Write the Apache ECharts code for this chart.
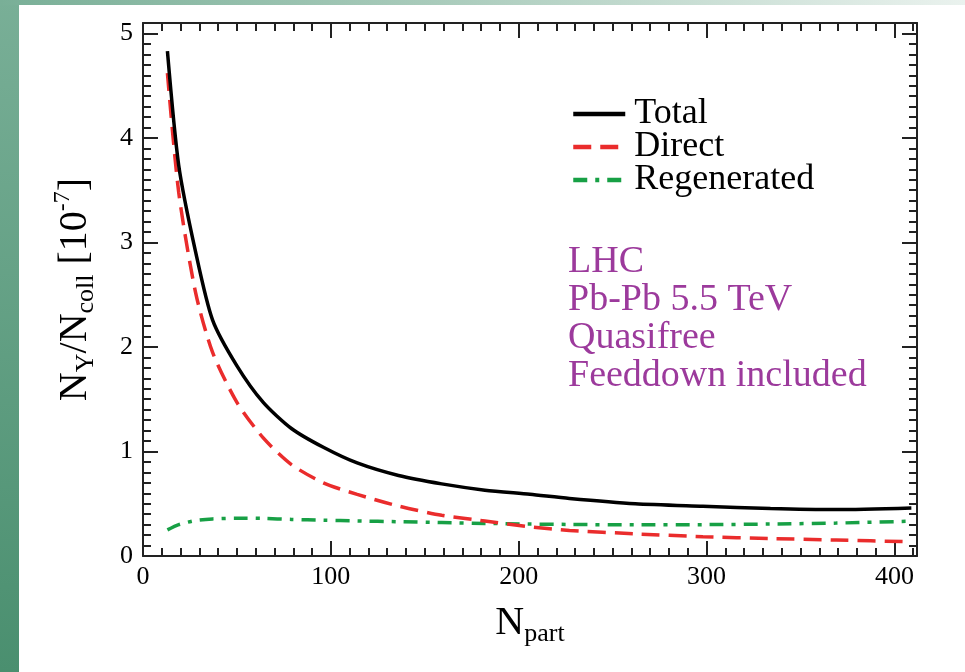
<!DOCTYPE html>
<html>
<head>
<meta charset="utf-8">
<script src="https://cdn.jsdelivr.net/npm/echarts@6/dist/echarts.min.js"></script>
<style>
  html, body { margin: 0; padding: 0; }
  #page { position: relative; width: 965px; height: 672px; background: #ffffff; overflow: hidden; }
  #stripLeft { position: absolute; left: 0; top: 0; width: 19px; height: 672px;
    background: linear-gradient(to bottom, #79af97, #4a8f6f); }
  #stripTop { position: absolute; left: 0; top: 0; width: 965px; height: 5px;
    background: linear-gradient(to right, #79af97 0%, #a9cbbb 45%, #eaf2ee 100%); }
  #chart { position: absolute; left: 0; top: 0; width: 965px; height: 672px; }
</style>
</head>
<body>
<div id="page">
  <div id="stripLeft"></div>
  <div id="stripTop"></div>
  <div id="chart"></div>
</div>
<script>
// Number of participants (x) and yields per binary collision, in units of 1e-7
const npart  = [13, 19, 28, 37, 50, 64, 79, 96, 114, 136, 159, 182, 206, 227, 262, 298, 334, 369, 409];
const total  = [4.83, 3.74, 2.91, 2.26, 1.82, 1.47, 1.22, 1.04, 0.89, 0.77, 0.69, 0.63, 0.59, 0.55, 0.50, 0.476, 0.454, 0.444, 0.46];
const direct = [4.62, 3.48, 2.52, 1.95, 1.47, 1.13, 0.875, 0.70, 0.59, 0.478, 0.39, 0.335, 0.28, 0.245, 0.212, 0.185, 0.167, 0.153, 0.136];
const regen  = [0.25, 0.30, 0.34, 0.355, 0.362, 0.36, 0.35, 0.342, 0.336, 0.328, 0.32, 0.312, 0.306, 0.302, 0.298, 0.300, 0.306, 0.315, 0.333];

const seriesNames = ['Total', 'Direct', 'Regenerated'];
const infoLines = ['LHC', 'Pb-Pb 5.5 TeV', 'Quasifree', 'Feeddown included'];

const X_MAX = 412, Y_MAX = 5.1;
const SERIF = 'Liberation Serif';
const AXIS_COLOR = '#222';

const pairs = ys => npart.map((x, i) => [x, ys[i]]);

const titleRich = {
  n: { fontFamily: SERIF, fontSize: 40, lineHeight: 48, color: '#000' },
  s: { fontFamily: SERIF, fontSize: 26, lineHeight: 26, verticalAlign: 'bottom', color: '#000' },
  p: { fontFamily: SERIF, fontSize: 24, lineHeight: 24, verticalAlign: 'top', color: '#000' }
};

function makeAxis(dim, position, step, tickLen, withLabels, extra) {
  const isX = dim === 'x';
  const axis = {
    type: 'value',
    position: position,
    min: 0,
    max: isX ? X_MAX : Y_MAX,
    interval: step,
    axisLine: { show: !!withLabels, onZero: false, lineStyle: { color: AXIS_COLOR, width: 2 } },
    axisTick: { show: true, inside: true, length: tickLen, lineStyle: { color: AXIS_COLOR, width: 2 } },
    splitLine: { show: false },
    axisLabel: { show: false }
  };
  if (withLabels === 'labels') {
    axis.axisLabel = {
      show: true,
      fontFamily: SERIF,
      fontSize: 26,
      color: '#000',
      margin: isX ? 8 : 10,
      showMaxLabel: false,
      formatter: v => (Math.abs(v / step - Math.round(v / step)) < 1e-6 ? String(Math.round(v)) : '')
    };
  }
  return Object.assign(axis, extra || {});
}

const chart = echarts.init(document.getElementById('chart'), null, { renderer: 'canvas' });

chart.setOption({
  backgroundColor: 'transparent',
  animation: false,
  grid: { left: 143, right: 48, top: 23, bottom: 116, containLabel: false },
  xAxis: [
    makeAxis('x', 'bottom', 100, 15, 'labels', {
      name: '{n|N}{s|part}',
      nameLocation: 'middle',
      nameGap: 43,
      nameTextStyle: { rich: titleRich }
    }),
    makeAxis('x', 'bottom', 10, 8, false),
    makeAxis('x', 'top', 100, 15, true),
    makeAxis('x', 'top', 10, 8, false)
  ],
  yAxis: [
    makeAxis('y', 'left', 1, 15, 'labels', {
      name: '{n|N}{s|Υ}{n|/N}{s|coll}{n| [10}{p|-7}{n|]}',
      nameLocation: 'middle',
      nameGap: 44,
      nameRotate: 90,
      nameTextStyle: { rich: titleRich }
    }),
    makeAxis('y', 'left', 0.1, 8, false),
    makeAxis('y', 'right', 1, 15, true),
    makeAxis('y', 'right', 0.1, 8, false)
  ],
  legend: {
    data: seriesNames,
    orient: 'vertical',
    left: 566,
    top: 91,
    itemWidth: 52,
    itemHeight: 14,
    itemGap: -3,
    selectedMode: false,
    itemStyle: { color: 'transparent', borderWidth: 0, opacity: 0 },
    lineStyle: { width: 4.5 },
    textStyle: { fontFamily: SERIF, fontSize: 36, color: '#000', lineHeight: 31, padding: [0, 0, 0, 4] }
  },
  graphic: [{
    type: 'text',
    left: 568,
    top: 243,
    silent: true,
    style: {
      text: infoLines.join('\n'),
      font: '38px "Liberation Serif"',
      lineHeight: 38,
      fill: '#9c3a9c'
    }
  }],
  series: [
    {
      name: 'Regenerated',
      type: 'line',
      xAxisIndex: 0, yAxisIndex: 0,
      data: pairs(regen),
      symbol: 'none',
      smooth: 0.25,
      lineStyle: { color: '#17a045', width: 3.5, type: [14, 8, 4, 8] },
      itemStyle: { color: '#17a045' },
      z: 3
    },
    {
      name: 'Direct',
      type: 'line',
      xAxisIndex: 0, yAxisIndex: 0,
      data: pairs(direct),
      symbol: 'none',
      smooth: 0.25,
      lineStyle: { color: '#ea2c2c', width: 3.5, type: [18, 9] },
      itemStyle: { color: '#ea2c2c' },
      z: 4
    },
    {
      name: 'Total',
      type: 'line',
      xAxisIndex: 0, yAxisIndex: 0,
      data: pairs(total),
      symbol: 'none',
      smooth: 0.25,
      lineStyle: { color: '#000', width: 3.5, type: 'solid' },
      itemStyle: { color: '#000' },
      z: 5
    }
  ]
});
</script>
</body>
</html>
